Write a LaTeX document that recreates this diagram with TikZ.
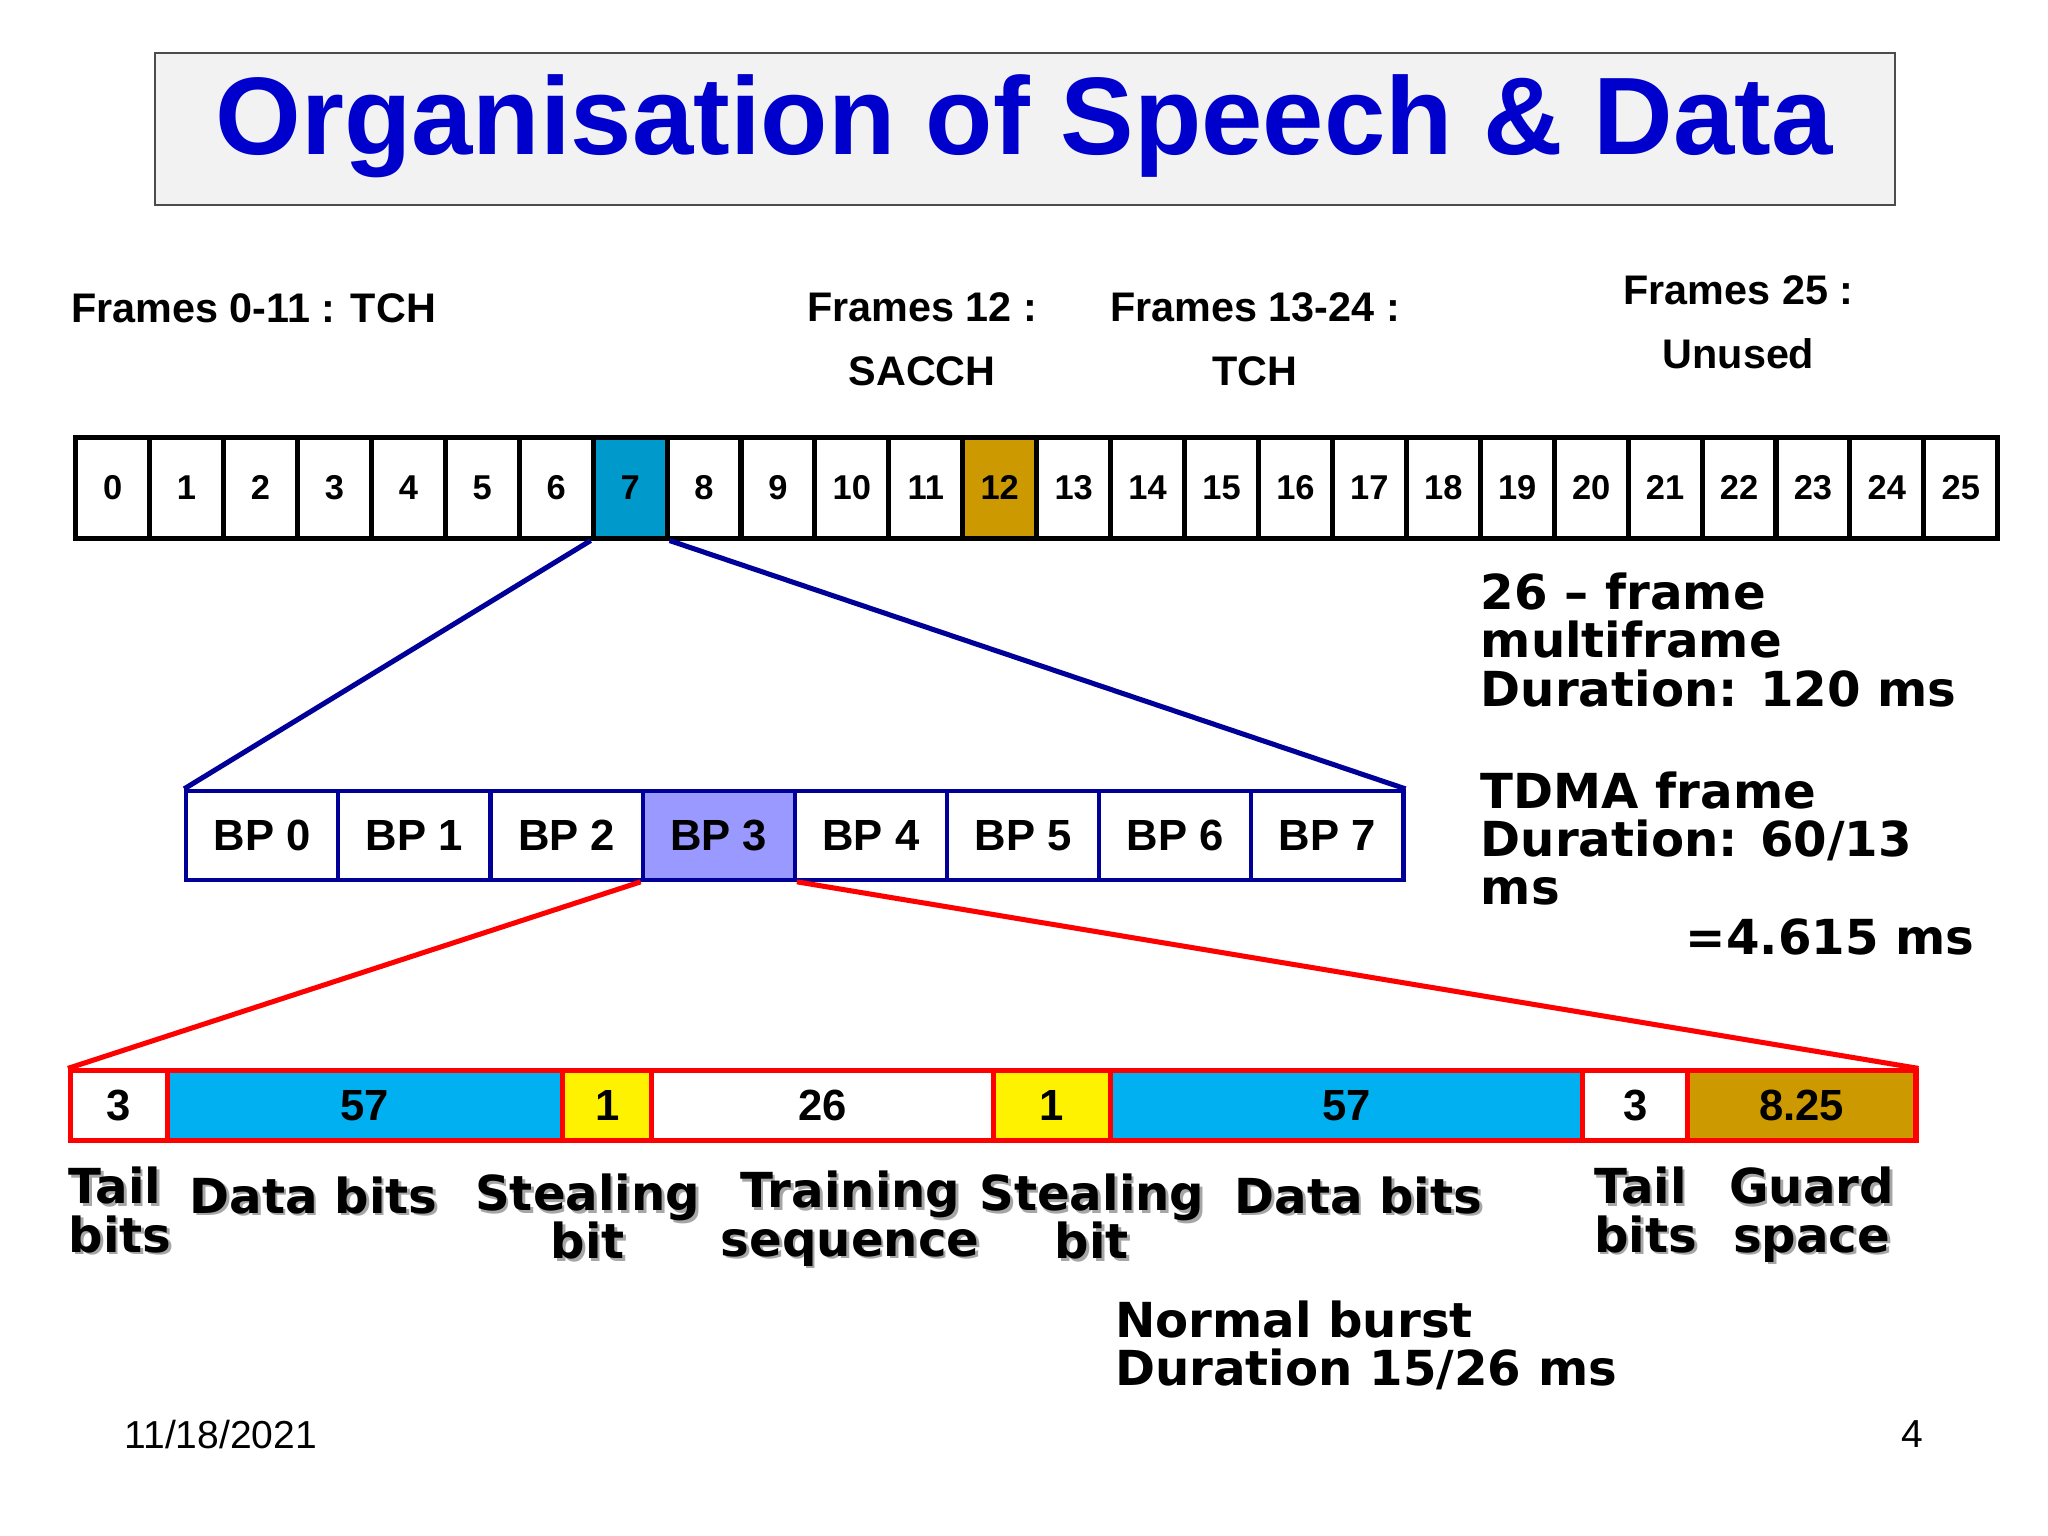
\documentclass[tikz,border=0pt]{standalone}
\usepackage{fontspec}
\setmainfont{Liberation Sans}
\newfontfamily\dv{DejaVu Sans}
\begin{document}
\begin{tikzpicture}[x=0.01cm,y=-0.01cm,
 cell/.style={draw=black,line width=1.1pt,minimum width=56.6*0.01cm,minimum height=77*0.01cm,inner sep=0,font=\bfseries\fontsize{7.5}{9}\selectfont,anchor=north west},
 bp/.style={draw=navy,line width=0.9pt,minimum width=116.5*0.01cm,minimum height=68*0.01cm,inner sep=0,font=\bfseries\fontsize{9.5}{11}\selectfont,anchor=north west},
 lbl/.style={font=\bfseries\fontsize{9}{11}\selectfont,align=center,inner sep=0},
 rt/.style={font=\dv\bfseries\fontsize{10.5}{10.5}\selectfont,align=left,inner sep=0,anchor=north west},
 bl/.style={font=\dv\bfseries\fontsize{10.5}{10.5}\selectfont,inner sep=0,anchor=north}]
\definecolor{navy}{HTML}{000099}
\definecolor{tblue}{HTML}{0000CC}
\definecolor{cyanb}{HTML}{0099CC}
\definecolor{gold}{HTML}{CC9900}
\definecolor{sky}{HTML}{00B0F0}
\definecolor{lav}{HTML}{9999FF}
\useasboundingbox (0,0) rectangle (1568,1176);
\node[draw=black!70,fill=black!5,minimum width=1332*0.01cm,minimum height=116*0.01cm,anchor=north west,inner sep=0] (title) at (118,40) {};
\node[text=tblue,font=\bfseries\fontsize{24}{28}\selectfont] at (784,97) {Organisation of Speech \& Data};
\node[lbl,anchor=north west] (f1) at (54,224) {Frames 0-11 : TCH};
\node[lbl] (f2) at (706,260) {Frames 12 :\\[3pt]SACCH};
\node[lbl] (f3) at (961,260) {Frames 13-24 :\\[3pt]TCH};
\node[lbl] (f4) at (1331,247) {Frames 25 :\\[3pt]Unused};
\foreach \i in {0,...,25}{
 \pgfmathsetmacro\xx{56+56.6*\i}
 \ifnum\i=7 \def\fc{cyanb}\else\ifnum\i=12 \def\fc{gold}\else\def\fc{white}\fi\fi
 \node[cell,fill=\fc] (c\i) at (\xx,333) {\i};
}
\foreach \i in {0,...,7}{
 \pgfmathsetmacro\xx{141+116.5*\i}
 \ifnum\i=3 \def\fc{lav}\else\def\fc{white}\fi
 \node[bp,fill=\fc] (b\i) at (\xx,604) {BP \i};
}
\draw[navy,line width=1.1pt] (c7.south west) -- (b0.north west);
\draw[navy,line width=1.1pt] (c7.south east) -- (b7.north east);
\foreach \n/\a/\b/\t/\f in {r0/52/126/3/white,r1/126/429/57/sky,r2/429/497/1/yellow,r3/497/759/26/white,r4/759/848/1/yellow,r5/848/1210/57/sky,r6/1210/1290/3/white,r7/1290/1465/8.25/gold}{
 \node[draw=red,line width=1.1pt,fill=\f,minimum width={(\b-\a)*0.01cm},minimum height=53*0.01cm,inner sep=0,anchor=north west,font=\bfseries\fontsize{9.5}{11}\selectfont] (\n) at (\a,818) {\t};
}
\draw[red,line width=1.1pt] (b3.south west) -- (r0.north west);
\draw[red,line width=1.1pt] (b3.south east) -- (r7.north east);
\node[rt] (m1) at (1133,438) {26 – frame\\multiframe\\Duration: 120 ms};
\node[rt] (m2) at (1133,590) {TDMA frame\\Duration: 60/13\\ms};
\node[rt] (m3) at (1290,703) {=4.615 ms};
\node[rt] (m4) at (853,995) {Normal burst\\Duration 15/26 ms};
\foreach \x/\y/\t/\al in {92/893/{Tail\\bits}/left,240/900/{Data bits}/center,450/898/{Stealing\\bit}/center,651/896/{Training\\sequence}/center,836/898/{Stealing\\bit}/center,1040/900/{Data bits}/center,1260/893/{Tail\\bits}/left,1387/893/{Guard\\space}/center}{
 \node[bl,align=\al,text=black!35] at (\x+2,\y+2) {\t};
 \node[bl,align=\al] at (\x,\y) {\t};
}
\node[font=\fontsize{8.5}{10}\selectfont] (d) at (169,1098) {11/18/2021};
\node[font=\fontsize{8.5}{10}\selectfont] (p) at (1464,1098) {4};
\end{tikzpicture}
\end{document}
